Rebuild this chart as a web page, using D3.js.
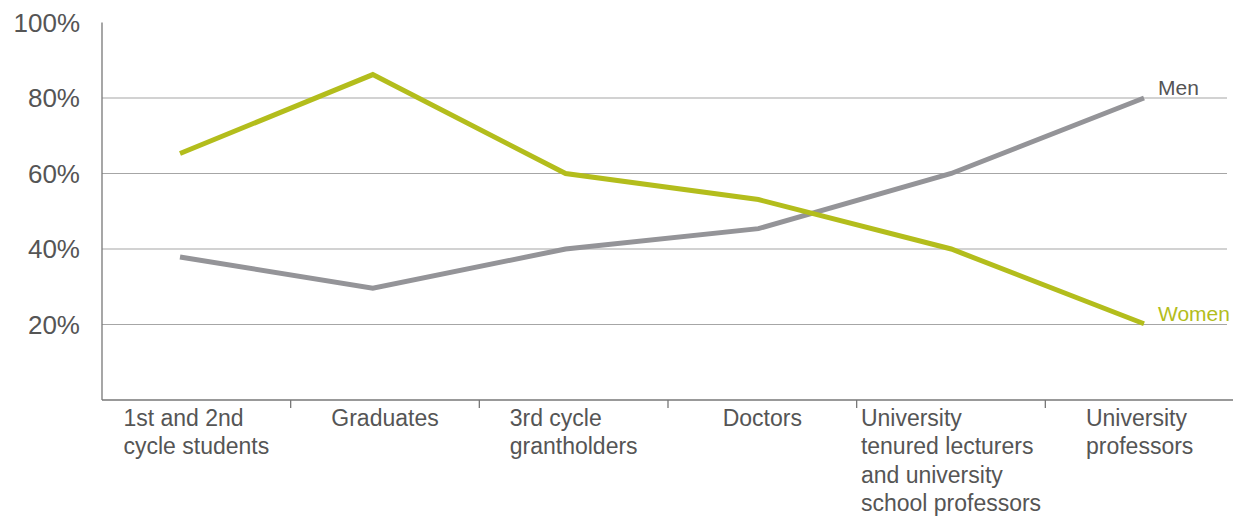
<!DOCTYPE html>
<html>
<head>
<meta charset="utf-8">
<script src="https://cdn.jsdelivr.net/npm/d3@7"></script>
<style>
  body { margin: 0; background: #fff; }
  text { font-family: "Liberation Sans", Arial, sans-serif; }
</style>
</head>
<body>
<svg id="chart"></svg>
<script>
// categories, one array of lines per label
var categories = [
  ["1st and 2nd", "cycle students"],
  ["Graduates"],
  ["3rd cycle", "grantholders"],
  ["Doctors"],
  ["University", "tenured lecturers", "and university", "school professors"],
  ["University", "professors"]
];
var women = [65.3, 86.2, 60, 53.1, 40, 20.2];
var men = [37.9, 29.6, 40, 45.4, 60, 80];
var yTicks = [20, 40, 60, 80, 100];

var width = 1233, height = 517;
var plotLeft = 102, plotRight = 1234, plotTop = 22.5, plotBottom = 400;

var svg = d3.select("#chart").attr("width", width).attr("height", height);

var keys = categories.map(function(d) { return d.join(" "); });
// band scale for the axis ticks/labels, point scale for the lines
var x = d3.scaleBand().domain(keys).range([plotLeft, plotRight]);
var xp = d3.scalePoint().domain(keys).range([180, 1144]);
var y = d3.scaleLinear().domain([0, 100]).range([plotBottom, plotTop]);

// gridlines
svg.append("g").selectAll("line")
  .data(yTicks.filter(function(d) { return d < 100; }))
  .enter().append("line")
  .attr("x1", plotLeft).attr("x2", 1227)
  .attr("y1", function(d) { return y(d); })
  .attr("y2", function(d) { return y(d); })
  .attr("stroke", "#a6a6a6").attr("stroke-width", 1.2);

// y axis line + labels
svg.append("line")
  .attr("x1", plotLeft).attr("x2", plotLeft).attr("y1", y(100)).attr("y2", y(0))
  .attr("stroke", "#777").attr("stroke-width", 1.3);

svg.append("g").selectAll("text")
  .data(yTicks)
  .enter().append("text")
  .attr("x", 80)
  .attr("y", function(d) { return y(d); })
  .attr("dy", ".36em")
  .attr("text-anchor", "end")
  .attr("font-size", 26)
  .attr("fill", "#555")
  .text(function(d) { return d + "%"; });

// x axis line + ticks between categories
svg.append("line")
  .attr("x1", plotLeft).attr("x2", width).attr("y1", y(0)).attr("y2", y(0))
  .attr("stroke", "#777").attr("stroke-width", 1.3);

svg.append("g").selectAll("line")
  .data(keys.slice(1))
  .enter().append("line")
  .attr("x1", function(d) { return x(d); })
  .attr("x2", function(d) { return x(d); })
  .attr("y1", y(0)).attr("y2", y(0) + 8)
  .attr("stroke", "#777").attr("stroke-width", 1.3);

// category labels, left aligned lines, block centred on band
var lab = svg.append("g").selectAll("text")
  .data(categories)
  .enter().append("text")
  .attr("font-size", 23)
  .attr("fill", "#555");

lab.selectAll("tspan")
  .data(function(d) { return d; })
  .enter().append("tspan")
  .attr("dy", function(d, i) { return i == 0 ? 0 : 28.3; })
  .text(function(d) { return d; });

lab.each(function(d, i) {
  var t = d3.select(this);
  var w = 0;
  t.selectAll("tspan").each(function() { w = Math.max(w, this.getComputedTextLength()); });
  var cx = x(keys[i]) + x.bandwidth() / 2 - w / 2;
  t.attr("y", 426);
  t.selectAll("tspan").attr("x", cx);
});

// lines
var line = d3.line()
  .x(function(d, i) { return xp(keys[i]); })
  .y(function(d) { return y(d); });

var series = [
  {name: "Men", values: men, color: "#949498", text: "#555"},
  {name: "Women", values: women, color: "#b3bd1c", text: "#b3bd1c"}
];

svg.append("g").selectAll("path")
  .data(series)
  .enter().append("path")
  .attr("d", function(d) { return line(d.values); })
  .attr("fill", "none")
  .attr("stroke", function(d) { return d.color; })
  .attr("stroke-width", 5);

svg.append("g").selectAll("text")
  .data(series)
  .enter().append("text")
  .attr("x", xp(keys[keys.length - 1]) + 14)
  .attr("y", function(d) { return y(d.values[d.values.length - 1]) - 3; })
  .attr("font-size", 21)
  .attr("fill", function(d) { return d.text; })
  .text(function(d) { return d.name; });
</script>
</body>
</html>
